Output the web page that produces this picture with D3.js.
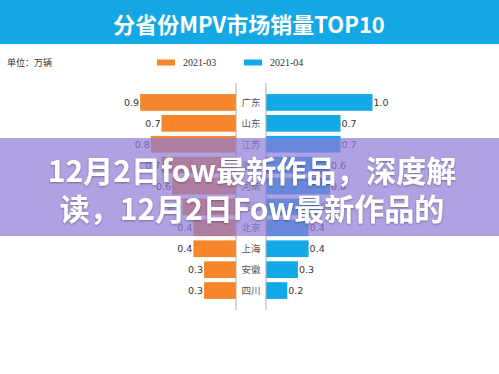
<!DOCTYPE html>
<html><head><meta charset="utf-8">
<script src="https://cdn.jsdelivr.net/npm/d3@7"></script>
<style>body{margin:0;background:#fff}svg{display:block}</style>
</head><body><svg id="c" width="499" height="374"></svg>
<script>
const categories = ["广东","山东","江苏","浙江","河南","河北","北京","上海","安徽","四川"];
const series03 = [0.9,0.7,0.8,0.7,0.6,0.5,0.4,0.4,0.3,0.3];
const series04 = [1.0,0.7,0.7,0.6,0.6,0.5,0.4,0.4,0.3,0.2];
const seriesNames = ["2021-03","2021-04"];
const title = "分省份MPV市场销量TOP10";
const unitLabel = "单位：万辆";
const overlayLines = ["12月2日fow最新作品，深度解","读，12月2日Fow最新作品的"];

const W=499,H=374;
const orange="#f7862a", blue="#11a9e6", headerBlue="#13a8e3";
const svg=d3.select("#c");

// header
svg.append("rect").attr("x",0).attr("y",0).attr("width",W).attr("height",44).attr("fill",headerBlue);
svg.append("text").attr("x",249).attr("y",33).attr("text-anchor","middle")
  .attr("font-family","'Noto Sans CJK SC',sans-serif").attr("font-weight","bold")
  .attr("font-size",22).attr("fill","#fff").text(title);

// unit
svg.append("text").attr("x",7).attr("y",66).attr("font-family","'Noto Sans CJK SC',sans-serif")
  .attr("font-size",9).attr("fill","#333").text(unitLabel);

// legend
const legX=[157,244], cols=[orange,blue];
seriesNames.forEach((n,i)=>{
  svg.append("rect").attr("x",legX[i]).attr("y",59.5).attr("width",18).attr("height",6).attr("fill",cols[i]);
  svg.append("text").attr("x",legX[i]+26).attr("y",66).attr("font-family","'Liberation Serif',serif")
    .attr("font-size",10).attr("fill","#333").text(n);
});

// scales
const y=d3.scaleBand().domain(categories).range([83,310]).paddingInner(0.2).paddingOuter(0.53);
const xl=d3.scaleLinear().domain([0,1]).range([236,236-106.5]);
const xr=d3.scaleLinear().domain([0,1]).range([266,266+106.5]);

const g=svg.append("g");
g.selectAll(".bl").data(series03).enter().append("rect")
  .attr("x",d=>xl(d)).attr("y",(d,i)=>y(categories[i])).attr("width",d=>xl(0)-xl(d))
  .attr("height",y.bandwidth()).attr("fill",orange);
g.selectAll(".br").data(series04).enter().append("rect")
  .attr("x",xr(0)).attr("y",(d,i)=>y(categories[i])).attr("width",d=>xr(d)-xr(0))
  .attr("height",y.bandwidth()).attr("fill",blue);

// axis lines
[236,266].forEach(x=>{
  g.append("line").attr("x1",x).attr("x2",x).attr("y1",y.range()[0]).attr("y2",y.range()[1])
   .attr("stroke","#aaa").attr("stroke-width",1);
});

// category labels
g.selectAll(".cat").data(categories).enter().append("text")
  .attr("x",251).attr("y",d=>y(d)+y.bandwidth()/2+3.5).attr("text-anchor","middle")
  .attr("font-family","'Noto Sans CJK SC',sans-serif").attr("font-size",9.5).attr("fill","#555").text(d=>d);

// value labels
g.selectAll(".vl").data(series03).enter().append("text")
  .attr("x",d=>xl(d)-1).attr("y",(d,i)=>y(categories[i])+y.bandwidth()/2+3.5).attr("text-anchor","end")
  .attr("font-family","'DejaVu Sans',sans-serif").attr("font-size",9.5).attr("fill","#333").text(d=>d.toFixed(1));
g.selectAll(".vr").data(series04).enter().append("text")
  .attr("x",d=>xr(d)+1).attr("y",(d,i)=>y(categories[i])+y.bandwidth()/2+3.5)
  .attr("font-family","'DejaVu Sans',sans-serif").attr("font-size",9.5).attr("fill","#333").text(d=>d.toFixed(1));

// overlay band
svg.append("rect").attr("x",0).attr("y",138).attr("width",W).attr("height",98)
  .attr("fill","rgb(142,122,213)").attr("fill-opacity",0.7);
const defs=svg.append("defs");
const f=defs.append("filter").attr("id","sh").attr("x","-10%").attr("y","-30%").attr("width","120%").attr("height","160%");
f.append("feDropShadow").attr("dx",0).attr("dy",1).attr("stdDeviation",1.2).attr("flood-color","#000").attr("flood-opacity",0.35);
overlayLines.forEach((t,i)=>{
  svg.append("text").attr("x",252).attr("y",182+i*38).attr("text-anchor","middle")
    .attr("font-family","'Noto Sans CJK SC',sans-serif").attr("font-weight","bold")
    .attr("font-size",30).attr("fill","#fff").attr("filter","url(#sh)").text(t);
});
</script></body></html>
